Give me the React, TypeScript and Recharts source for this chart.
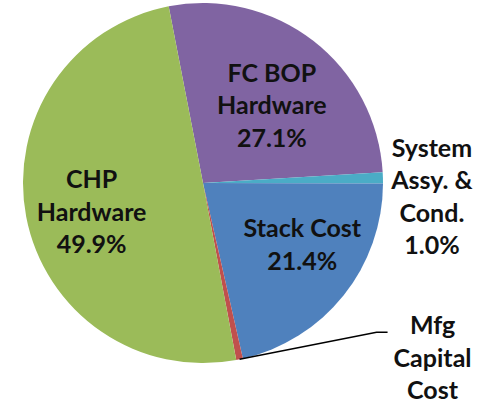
import React from 'react';
import { PieChart, Pie, Cell } from 'recharts';

const categories = ['FC BOP Hardware', 'System Assy. & Cond.', 'Stack Cost', 'Mfg Capital Cost', 'CHP Hardware'];
const labelLines = [['FC BOP', 'Hardware'], ['System', 'Assy. &', 'Cond.'], ['Stack Cost'], ['Mfg', 'Capital', 'Cost'], ['CHP', 'Hardware']];
const shares = [27.1, 1.0, 21.4, 0.6, 49.9];
const showPercent = [true, true, true, false, true];
const colors = ['#8064A2', '#4BACC6', '#4F81BD', '#C0504D', '#9BBB59'];

const data = categories.map((name, i) => ({ name, value: shares[i] }));

const RADIAN = Math.PI / 180;
const LINE_H = 32.5;
const FONT = 'Lato, "Open Sans", sans-serif';

// per-label placement: radius factor (of outerRadius) along midAngle, plus offsets to first baseline
const layout = [
  { k: 0.57, dx: 6, dy: -20 },
  { k: 1.0, dx: 49, dy: -21 },
  { k: 0.65, dx: 8, dy: -19 },
  { k: 1.0, dx: 193, dy: -25 },
  { k: 0.63, dx: 0, dy: -16 },
];

const renderLabel = (props: any) => {
  const { cx, cy, midAngle, outerRadius, index } = props;
  const L = layout[index];
  const r = outerRadius * L.k;
  const px = cx + r * Math.cos(-midAngle * RADIAN);
  const py = cy + r * Math.sin(-midAngle * RADIAN);
  const x = px + L.dx;
  const y = py + L.dy;
  const lines = [...labelLines[index]];
  if (showPercent[index]) lines.push(`${shares[index].toFixed(1)}%`);
  let leader: React.ReactNode = null;
  if (index === 3) {
    const ex = cx + outerRadius * Math.cos(-midAngle * RADIAN);
    const ey = cy + outerRadius * Math.sin(-midAngle * RADIAN);
    leader = (
      <polyline
        points={`${ex},${ey} ${x - 56},${y - 2} ${x - 45},${y - 2}`}
        fill="none"
        stroke="#000"
        strokeWidth={1.5}
      />
    );
  }
  return (
    <g key={`lbl-${index}`}>
      {leader}
      <text
        x={x}
        y={y}
        textAnchor="middle"
        fill="#111"
        fontFamily={FONT}
        fontWeight={700}
        fontSize={25}
      >
        {lines.map((t, i) => (
          <tspan key={i} x={x} y={y + i * LINE_H}>
            {t}
          </tspan>
        ))}
      </text>
    </g>
  );
};

export default function App() {
  return (
    <div style={{ position: 'fixed', left: 0, top: 0, width: 481, height: 403, background: '#fff' }}>
      <PieChart width={481} height={403} margin={{ top: 0, right: 0, bottom: 0, left: 0 }}>
        <Pie
          data={data}
          dataKey="value"
          nameKey="name"
          cx={203}
          cy={183}
          outerRadius={180}
          startAngle={101}
          endAngle={-259}
          stroke="none"
          isAnimationActive={false}
          label={renderLabel}
          labelLine={false}
        >
          {data.map((d, i) => (
            <Cell key={d.name} fill={colors[i]} />
          ))}
        </Pie>
      </PieChart>
    </div>
  );
}
